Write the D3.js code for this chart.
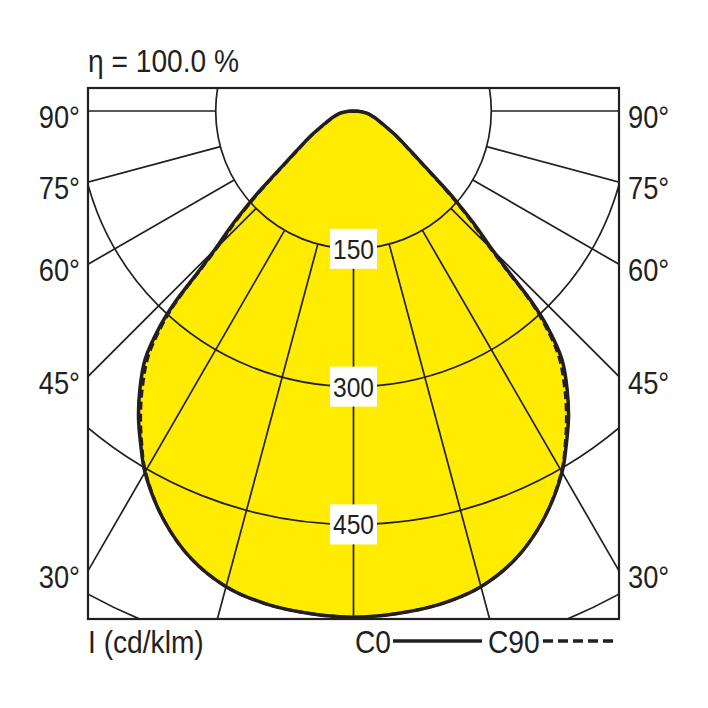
<!DOCTYPE html>
<html lang="de">
<head>
<meta charset="UTF-8" />
<title>Lichtverteilungskurve</title>
<script src="https://d3js.org/d3.v7.min.js"></script>
<style>
  body { margin: 0; background: #fff; }
  svg { display: block; }
  text {
    font-family: "Liberation Sans", Arial, sans-serif;
    fill: #231f20;
  }
</style>
</head>
<body>
<svg></svg>
<script>
  // Ausstrahlungswinkel (Grad von der Senkrechten nach unten) und Lichtstärken in cd/klm
  const angles = [0, 5, 10, 15, 20, 25, 30, 32.5, 35, 37.5, 40, 42, 43, 44, 45, 46, 47, 48, 49, 50, 52.5, 55, 57.5, 60, 65, 70, 75, 80, 85, 90];
  const c0  = [551, 549, 545, 536, 518, 490, 454, 431, 408, 382, 353, 314, 286, 243, 214, 195, 178, 160, 144, 127, 95, 76, 63, 53, 37, 28, 21, 15.5, 8.5, 0];
  const c90 = [551, 549, 545, 536, 518, 490, 453, 429, 404, 377, 347, 308, 280, 238, 209, 190, 174, 156, 140, 124, 93, 74, 62, 52, 36, 27, 20.5, 15, 8, 0];

  const rings = [150, 300, 450, 600];
  const ringLabels = ["150", "300", "450"];
  const spokes = [0, 15, 30, 45, 60, 75, 90];
  const edgeAngles = [30, 45, 60, 75, 90];

  const width = 708, height = 708;
  const box = { x0: 88, y0: 88, x1: 619, y1: 619 };
  const cx = 353.5, cy = 111;
  const ink = "#231f20";
  const squeeze = 0.88;   // schmale Schrift nachbilden

  const r = d3.scaleLinear().domain([0, 150]).range([0, 137.8]);
  const rad = d => d * Math.PI / 180;

  // side = -1 links, +1 rechts
  const pt = (deg, v, side) => [cx + side * r(v) * Math.sin(rad(deg)), cy + r(v) * Math.cos(rad(deg))];

  const svg = d3.select("svg")
    .attr("width", width)
    .attr("height", height);

  svg.append("defs").append("clipPath")
    .attr("id", "frame")
    .append("rect")
    .attr("x", box.x0).attr("y", box.y0)
    .attr("width", box.x1 - box.x0).attr("height", box.y1 - box.y0);

  function outline(values) {
    const pts = [];
    for (let i = angles.length - 1; i >= 0; i--) pts.push(pt(angles[i], values[i], -1));
    for (let i = 1; i < angles.length; i++) pts.push(pt(angles[i], values[i], 1));
    return pts;
  }

  const line = d3.line().curve(d3.curveCatmullRom.alpha(0.5));

  function label(parent, x, y, txt, size, anchor) {
    return parent.append("text")
      .attr("transform", `translate(${x},${y}) scale(${squeeze},1)`)
      .attr("text-anchor", anchor || "start")
      .style("font-size", size + "px")
      .text(txt);
  }

  // Fläche
  svg.append("path")
    .attr("d", line(outline(c0)) + "Z")
    .attr("fill", "#ffec00");

  // Raster
  const grid = svg.append("g").attr("clip-path", "url(#frame)")
    .attr("fill", "none").attr("stroke", ink).attr("stroke-width", 1.7);

  grid.selectAll("circle")
    .data(rings)
    .enter()
    .append("circle")
    .attr("cx", cx).attr("cy", cy)
    .attr("r", d => r(d));

  const spokeData = [];
  spokes.forEach(a => {
    spokeData.push({ a, side: -1 });
    if (a !== 0) spokeData.push({ a, side: 1 });
  });

  grid.selectAll("line")
    .data(spokeData)
    .enter()
    .append("line")
    .attr("x1", d => pt(d.a, rings[0], d.side)[0])
    .attr("y1", d => pt(d.a, rings[0], d.side)[1])
    .attr("x2", d => pt(d.a, 900, d.side)[0])
    .attr("y2", d => pt(d.a, 900, d.side)[1]);

  // Ringbeschriftung
  ringLabels.forEach((d, i) => {
    const g = svg.append("g").attr("transform", `translate(${cx},${cy + r(rings[i])})`);
    g.append("rect")
      .attr("x", -23.5).attr("y", -20)
      .attr("width", 47).attr("height", 40)
      .attr("fill", "#fff");
    label(g, 0, 10, d, 28, "middle");
  });

  // Kurven
  svg.append("path")
    .attr("d", line(outline(c0)))
    .attr("fill", "none")
    .attr("stroke", ink)
    .attr("stroke-width", 3.5)
    .attr("stroke-linejoin", "round");

  svg.append("path")
    .attr("d", line(outline(c90)))
    .attr("fill", "none")
    .attr("stroke", ink)
    .attr("stroke-width", 3)
    .attr("stroke-dasharray", "8,4");

  // Rahmen
  svg.append("rect")
    .attr("x", box.x0).attr("y", box.y0)
    .attr("width", box.x1 - box.x0).attr("height", box.y1 - box.y0)
    .attr("fill", "none")
    .attr("stroke", ink)
    .attr("stroke-width", 2.2);

  // Winkelbeschriftung an den Rändern
  const edgeY = a => cy + (cx - box.x0) * Math.cos(rad(a)) / Math.sin(rad(a));

  edgeAngles.forEach(a => {
    label(svg, 80, edgeY(a) + 17, a + "°", 31, "end");
    label(svg, 628, edgeY(a) + 17, a + "°", 31, "start");
  });

  // Kopf und Fuß
  label(svg, 88, 72, "η = 100.0 %", 32);
  label(svg, 88, 653, "I (cd/klm)", 32);
  label(svg, 355, 653, "C0", 32);
  label(svg, 488, 653, "C90", 32);

  svg.append("line")
    .attr("x1", 393).attr("x2", 482)
    .attr("y1", 641).attr("y2", 641)
    .attr("stroke", ink).attr("stroke-width", 3.5);

  svg.append("line")
    .attr("x1", 543).attr("x2", 617)
    .attr("y1", 641).attr("y2", 641)
    .attr("stroke", ink).attr("stroke-width", 3.5)
    .attr("stroke-dasharray", "10,5");
</script>
</body>
</html>
